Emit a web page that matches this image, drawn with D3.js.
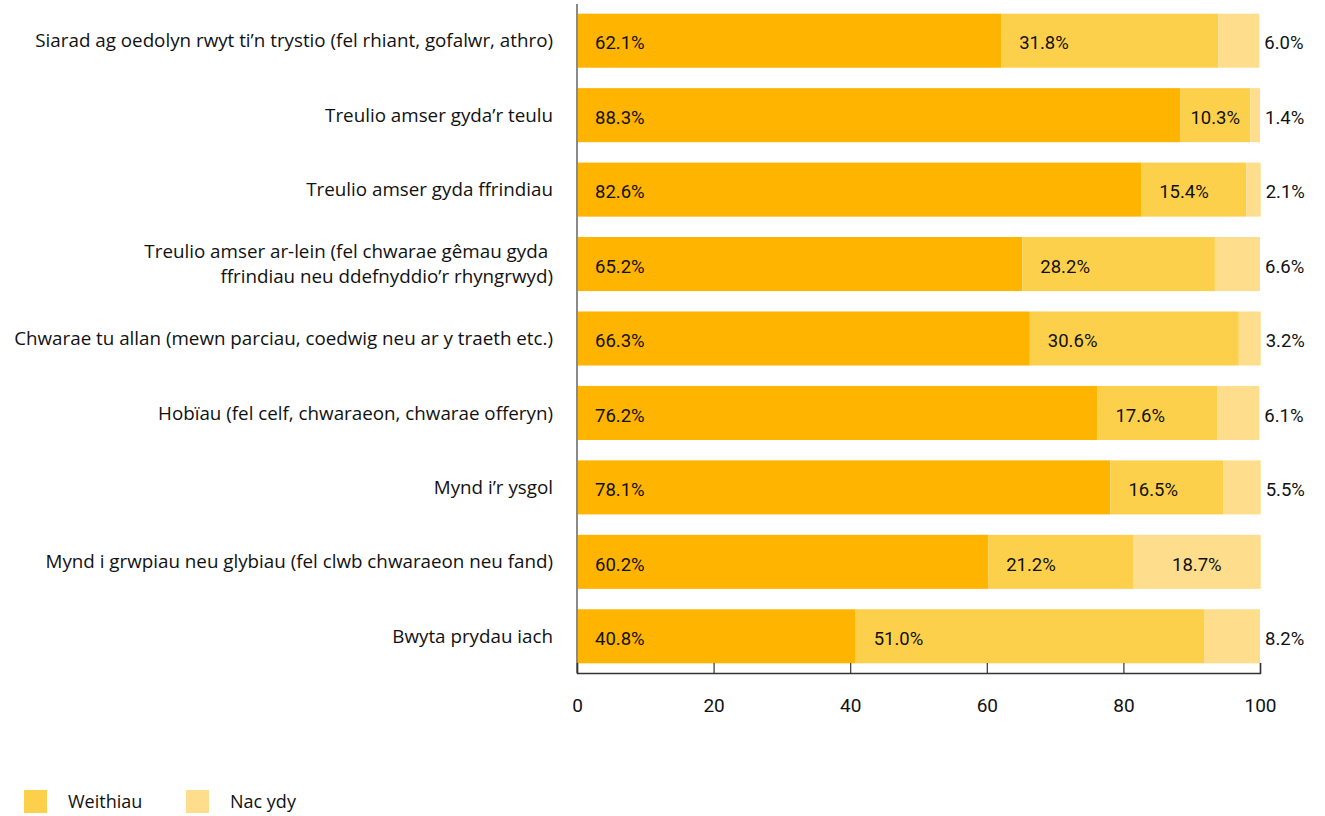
<!DOCTYPE html>
<html>
<head>
<meta charset="utf-8">
<script src="https://cdn.jsdelivr.net/npm/d3@7"></script>
<style>
  html, body { margin: 0; padding: 0; background: #fff; }
  svg { display: block; font-family: Roboto, "Noto Sans", sans-serif; }
</style>
</head>
<body>
<svg id="chart" width="1325" height="816"></svg>
<script>
// Activities (one row each), top to bottom
const categories = [
  ["Siarad ag oedolyn rwyt ti’n trystio (fel rhiant, gofalwr, athro)"],
  ["Treulio amser gyda’r teulu"],
  ["Treulio amser gyda ffrindiau"],
  ["Treulio amser ar-lein (fel chwarae gêmau gyda ", "ffrindiau neu ddefnyddio’r rhyngrwyd)"],
  ["Chwarae tu allan (mewn parciau, coedwig neu ar y traeth etc.)"],
  ["Hobïau (fel celf, chwaraeon, chwarae offeryn)"],
  ["Mynd i’r ysgol"],
  ["Mynd i grwpiau neu glybiau (fel clwb chwaraeon neu fand)"],
  ["Bwyta prydau iach"]
];

// Series names and shares (%)
const seriesNames = ["Ydy", "Weithiau", "Nac ydy"];
const ydy      = [62.1, 88.3, 82.6, 65.2, 66.3, 76.2, 78.1, 60.2, 40.8];
const weithiau = [31.8, 10.3, 15.4, 28.2, 30.6, 17.6, 16.5, 21.2, 51.0];
const nacYdy   = [6.0, 1.4, 2.1, 6.6, 3.2, 6.1, 5.5, 18.7, 8.2];
const seriesValues = [ydy, weithiau, nacYdy];
const seriesColors = ["#FFB400", "#FDD04C", "#FEDE8C"];

const xTicks = [0, 20, 40, 60, 80, 100];

(function draw() {
  const svg = d3.select("#chart");
  const plotLeft = 577, plotRight = 1260, plotTop = 4, plotBottom = 673;
  const labelFont = "'Open Sans', 'Noto Sans', sans-serif";

  const x = d3.scaleLinear().domain([0, 100]).range([plotLeft, plotRight]);
  const y = d3.scaleBand()
    .domain(d3.range(categories.length))
    .range([plotTop, plotBottom])
    .paddingInner(0.274)
    .paddingOuter(0.13);

  // Stack segments per row
  const segments = [];
  categories.forEach((c, i) => {
    let acc = 0;
    seriesValues.forEach((vals, s) => {
      const v = vals[i];
      segments.push({ row: i, s, x0: acc, x1: acc + v, v });
      acc += v;
    });
  });

  svg.append("g").selectAll("rect")
    .data(segments)
    .join("rect")
    .attr("x", d => x(d.x0))
    .attr("y", d => y(d.row))
    .attr("width", d => x(d.x1) - x(d.x0))
    .attr("height", y.bandwidth())
    .attr("fill", d => seriesColors[d.s]);

  // Value labels
  const fmt = v => v.toFixed(1) + "%";
  svg.append("g").selectAll("text")
    .data(segments)
    .join("text")
    .attr("font-size", 18.5)
    .attr("fill", "#111")
    .attr("dy", "0.36em")
    .attr("y", d => y(d.row) + y.bandwidth() / 2 + 2)
    .text(d => fmt(d.v))
    .each(function(d) {
      const w = x(d.x1) - x(d.x0);
      const sel = d3.select(this);
      if (d.s === 2) {
        if (d.v >= 10) {
          sel.attr("x", (x(d.x0) + x(d.x1)) / 2).attr("text-anchor", "middle");
        } else {
          sel.attr("x", x(d.x1) + 5).attr("text-anchor", "start");
        }
      } else if (w < 90) {
        sel.attr("x", (x(d.x0) + x(d.x1)) / 2).attr("text-anchor", "middle");
      } else {
        sel.attr("x", x(d.x0) + 18).attr("text-anchor", "start");
      }
    });

  // Category labels
  const catG = svg.append("g");
  categories.forEach((lines, i) => {
    const cy = y(i) + y.bandwidth() / 2;
    const t = catG.append("text")
      .attr("x", 553)
      .attr("text-anchor", "end")
      .attr("font-family", labelFont)
      .attr("font-size", 18.8)
      .attr("fill", "#111");
    const n = lines.length;
    lines.forEach((ln, k) => {
      t.append("tspan")
        .attr("x", 553)
        .attr("y", cy + (k - (n - 1) / 2) * 25)
        .attr("dy", "0.35em")
        .text(ln);
    });
  });

  // Vertical baseline
  svg.append("line")
    .attr("x1", plotLeft).attr("x2", plotLeft)
    .attr("y1", plotTop).attr("y2", plotBottom)
    .attr("stroke", "#8a8a8a").attr("stroke-width", 2);

  // Bottom axis with inward ticks
  const xAxis = d3.axisBottom(x).tickValues(xTicks).tickSize(-10).tickSizeOuter(-10).tickPadding(0);
  const ax = svg.append("g").attr("transform", `translate(0,${plotBottom})`).call(xAxis);
  ax.select(".domain").attr("stroke", "#333").attr("stroke-width", 1.5);
  ax.selectAll(".tick line").attr("stroke", "#333").attr("stroke-width", 1.2);
  ax.selectAll(".tick text")
    .attr("font-size", 19)
    .attr("font-family", "Roboto, sans-serif")
    .attr("fill", "#111")
    .attr("y", 32)
    .attr("dy", "0.35em");

  // Legend
  const legendItems = seriesNames.map((n, s) => ({ n, s })).slice(1);
  const lg = svg.append("g").selectAll("g")
    .data(legendItems)
    .join("g")
    .attr("transform", (d, i) => `translate(${24 + i * 162},790)`);
  lg.append("rect").attr("width", 23).attr("height", 23).attr("fill", d => seriesColors[d.s]);
  lg.append("text")
    .attr("x", 44).attr("y", 12).attr("dy", "0.35em")
    .attr("font-family", labelFont)
    .attr("font-size", 18).attr("fill", "#111")
    .text(d => d.n);
})();
</script>
</body>
</html>
